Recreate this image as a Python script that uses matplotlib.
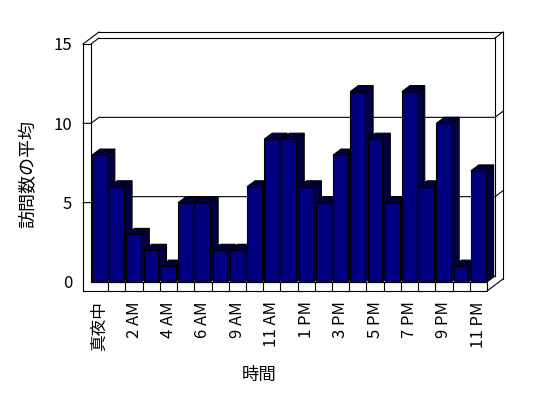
import numpy as np
import matplotlib
matplotlib.use('Agg')
import matplotlib.pyplot as plt
from matplotlib.patches import Polygon

plt.rcParams['font.family'] = ['Noto Sans CJK JP', 'DejaVu Sans']

hours = ['真夜中', '1 AM', '2 AM', '3 AM', '4 AM', '5 AM', '6 AM', '7 AM', '9 AM',
         '10 AM', '11 AM', '12 PM', '1 PM', '2 PM', '3 PM', '4 PM', '5 PM', '6 PM',
         '7 PM', '8 PM', '9 PM', '10 PM', '11 PM']
visits = [8, 6, 3, 2, 1, 5, 5, 2, 2, 6, 9, 9, 6, 5, 8, 12, 9, 5, 12, 6, 10, 1, 7]
y_ticks = [0, 5, 10, 15]

n = len(visits)
ymax = 15
x0, x1 = -0.5, n - 0.5

# axes = front plane of the 3D box (pixels 91..487 x 44..282)
W, H = 548, 398
fig = plt.figure(figsize=(W / 100, H / 100), dpi=100)
ax = fig.add_axes([91 / W, (H - 282) / H, 396 / W, 238 / H])
ax.set_xlim(x0, x1)
ax.set_ylim(0, ymax)
for s in ax.spines.values():
    s.set_visible(False)

# depth offset (8px right, 6px up) and floor thickness, in data units
dx = 8 / (396 / n)
dy = 6 / (238 / ymax)
ty = 9 / (238 / ymax)

lw = 0.8
kw = dict(color='black', lw=lw, clip_on=False, zorder=2)


def line(xs, ys):
    ax.plot(xs, ys, **kw)


# walls / floor outline
line([x0 - dx, x0 - dx], [-ty, ymax])
line([x0 - dx, x0], [ymax, ymax])
line([x0 - dx, x0 + dx], [ymax, ymax + 2 * dy])
line([x0 + dx, x1 + 2 * dx], [ymax + 2 * dy, ymax + 2 * dy])
line([x1 + 2 * dx, x1 + 2 * dx], [ymax + 2 * dy, -ty + 2 * dy])
line([x1 + 2 * dx, x1], [-ty + 2 * dy, -ty])
line([x0 - dx, x1], [-ty, -ty])
line([x0, x1], [0, 0])
line([x0, x0], [0, ymax])
line([x0, x0 + dx], [ymax, ymax + dy])
line([x0 + dx, x1 + dx], [ymax + dy, ymax + dy])
line([x1 + dx, x1 + dx], [ymax + dy, dy])
line([x1 + dx, x1], [dy, 0])
line([x1 + dx, x1 + 2 * dx], [ymax + dy, ymax + 2 * dy])
line([x1, x1], [0, -ty])
for k in range(1, n):
    line([x0 + k, x0 + k], [0, -ty])

# gridlines on left and back walls
for v in y_ticks[1:-1]:
    line([x0 - dx, x0, x0 + dx, x1 + dx, x1 + 2 * dx],
         [v, v, v + dy, v + dy, v + 2 * dy])

# bars with a fake 3D side and top
front = '#000080'
shade = '#000040'
bw = 0.86
bars = ax.bar(np.arange(n) - 0.5 + 0.06, visits, width=bw, align='edge',
              color=front, edgecolor='black', linewidth=lw)
for i, (rect, v) in enumerate(zip(bars, visits)):
    xl = rect.get_x()
    xr = xl + bw
    side = Polygon([(xr, 0), (xr + dx, dy), (xr + dx, v + dy), (xr, v)],
                   closed=True, facecolor=shade, edgecolor='black', lw=lw,
                   clip_on=False, zorder=10 + 3 * i)
    top = Polygon([(xl, v), (xr, v), (xr + dx, v + dy), (xl + dx, v + dy)],
                  closed=True, facecolor=shade, edgecolor='black', lw=lw,
                  clip_on=False, zorder=11 + 3 * i)
    ax.add_patch(side)
    ax.add_patch(top)
    rect.set_zorder(12 + 3 * i)
    rect.set_clip_on(False)

ax.set_yticks(y_ticks)
ax.set_yticklabels([str(t) for t in y_ticks], fontsize=12)
ax.set_xticks(np.arange(0, n, 2))
ax.set_xticklabels(hours[::2], rotation=90, fontsize=12)
ax.tick_params(axis='y', length=0, pad=13.5)
ax.tick_params(axis='x', length=0, pad=14)

fig.text(28 / W, 1 - 174 / H, '訪問数の平均', rotation=90, fontsize=13,
         ha='center', va='center')
fig.text(259 / W, 1 - 375 / H, '時間', fontsize=12.5, ha='center', va='center')

fig.savefig('out.png', dpi=100)
